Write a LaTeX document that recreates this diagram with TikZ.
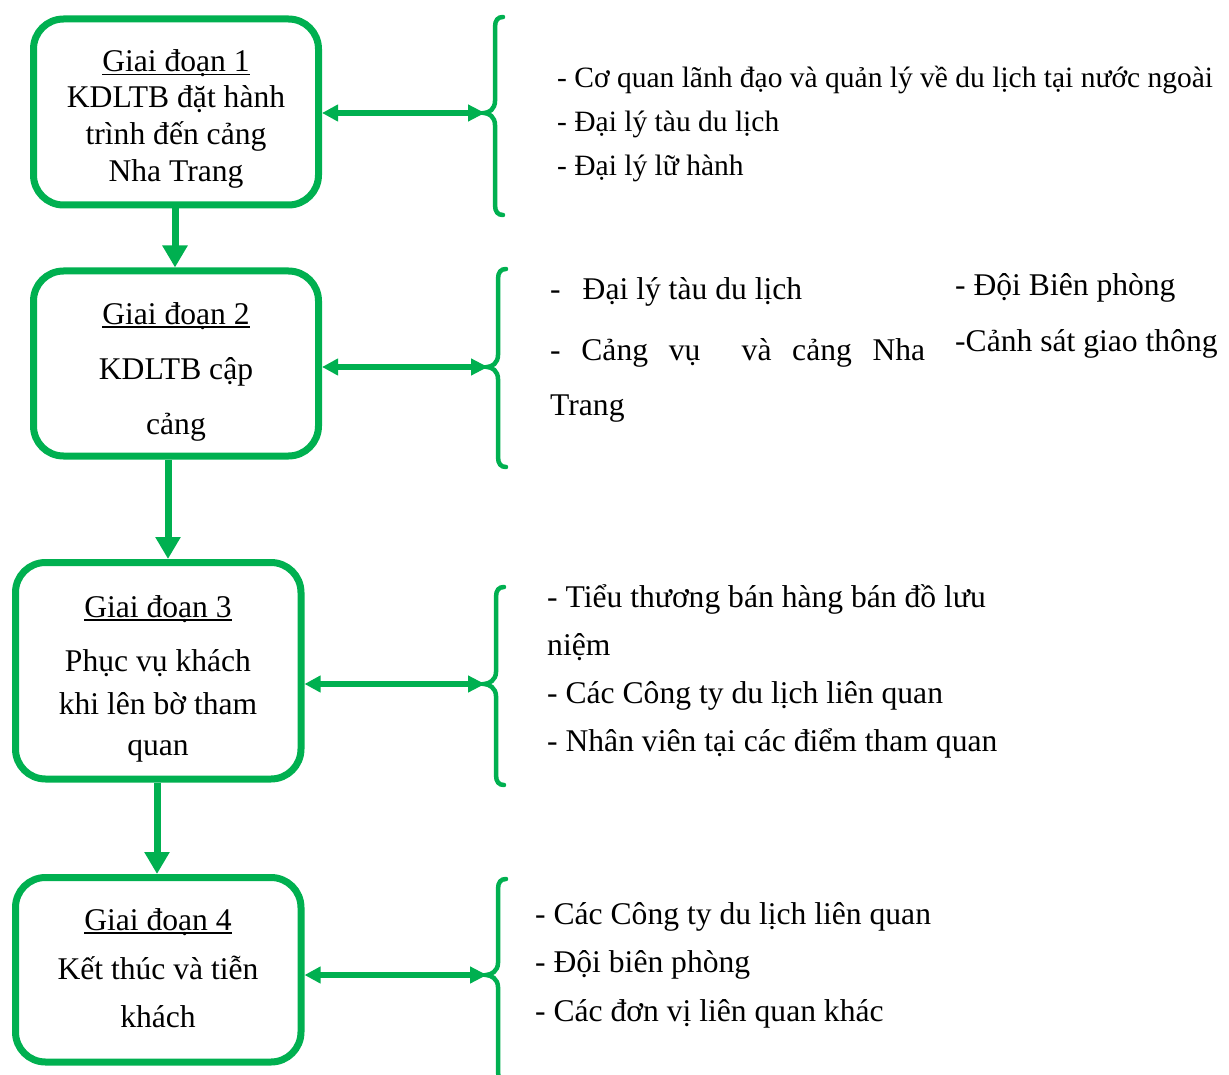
\documentclass[tikz,border=0pt]{standalone}
\usepackage{fontspec}
\setmainfont{Liberation Serif}
\usetikzlibrary{arrows.meta}
\definecolor{wgreen}{RGB}{0,176,80}
\newcommand\myul[1]{\setbox0\hbox{#1}\rlap{\rule[-3.5pt]{\wd0}{1.6pt}}\box0}
\newcommand\drawbrace[5]{%
 \draw[brace] ({#1+8},#2) .. controls ({#1+3},#2) and (#1,{#2+3}) .. (#1,{#2+10})
   -- (#1,{#3-12}) .. controls (#1,{#3-4}) and ({#5+5},#3) .. (#5,#3)
   .. controls ({#5+5},#3) and (#1,{#3+4}) .. (#1,{#3+12})
   -- (#1,{#4-10}) .. controls (#1,{#4-3}) and ({#1+3},#4) .. ({#1+8},#4);}
\begin{document}
\begin{tikzpicture}[x=1pt,y=-1pt,
  stage/.style={draw=wgreen, line width=7pt, rounded corners=30pt, inner sep=0pt},
  bt/.style={font=\fontsize{31.6}{37}\selectfont, inner sep=0pt, anchor=base},
  rt/.style={font=\fontsize{31.6}{37}\selectfont, inner sep=0pt, anchor=base west},
  rts/.style={font=\fontsize{29.5}{35}\selectfont, inner sep=0pt, anchor=base west},
  down/.style={draw=wgreen, line width=7pt, -{Triangle[width=24pt,length=22pt]}},
  dbl/.style={draw=wgreen, line width=5.5pt, {Triangle[width=16pt,length=16pt]}-{Triangle[width=16pt,length=17pt]}},
  brace/.style={draw=wgreen, line width=4.5pt, line cap=round}]
\useasboundingbox (0,0) rectangle (1229,1075);

% stage boxes
\node[stage, minimum width=285pt, minimum height=186pt] (b1) at (176,112) {};
\node[stage, minimum width=285pt, minimum height=185pt] (b2) at (176,363.5) {};
\node[stage, minimum width=285.5pt, minimum height=216.5pt] (b3) at (158.25,670.75) {};
\node[stage, minimum width=285.5pt, minimum height=184.5pt] (b4) at (158.25,969.75) {};

% box texts
\node[bt] (g1) at (176,72) {\myul{Giai đoạn 1}};
\node[bt] (g1b) at (176,108) {KDLTB đặt hành};
\node[bt] (g1c) at (176,145) {trình đến cảng};
\node[bt] (g1d) at (176,182) {Nha Trang};

\node[bt] (g2) at (176,324) {\myul{Giai đoạn 2}};
\node[bt] (g2b) at (176,379) {KDLTB cập};
\node[bt] (g2c) at (176,434) {cảng};

\node[bt] (g3) at (158,617) {\myul{Giai đoạn 3}};
\node[bt] (g3b) at (158,671) {Phục vụ khách};
\node[bt] (g3c) at (158,714) {khi lên bờ tham};
\node[bt] (g3d) at (158,755) {quan};

\node[bt] (g4) at (158,930) {\myul{Giai đoạn 4}};
\node[bt] (g4b) at (158,979) {Kết thúc và tiễn};
\node[bt] (g4c) at (158,1027) {khách};

% vertical arrows
\coordinate (x1) at (175,0);
\coordinate (x2) at (168,0);
\coordinate (x3) at (157,0);
\draw[down] (b1.south -| x1) -- (b2.north -| x1);
\draw[down] (b2.south -| x2) -- (b3.north -| x2);
\draw[down] (b3.south -| x3) -- (b4.north -| x3);

% braces
\drawbrace{495}{17}{113}{215}{484}
\drawbrace{498}{269}{367}{467}{487}
\drawbrace{496}{587}{684}{785}{484}
\drawbrace{498}{879}{975}{1082}{486}

% brace tips
\coordinate (t1) at (485,113);
\coordinate (t2) at (488,367);
\coordinate (t3) at (485,684);
\coordinate (t4) at (487,975);
\draw[dbl] (b1.east |- t1) -- (t1);
\draw[dbl] (b2.east |- t2) -- (t2);
\draw[dbl] (b3.east |- t3) -- (t3);
\draw[dbl] (b4.east |- t4) -- (t4);

% right texts
\node[rts] (r1a) at (557,88) {- Cơ quan lãnh đạo và quản lý về du lịch tại nước ngoài};
\node[rts] (r1b) at (557,132) {- Đại lý tàu du lịch};
\node[rts] (r1c) at (557,176) {- Đại lý lữ hành};

\node[rt] (r2a) at (550,300) {-\hspace{22pt}Đại lý tàu du lịch};
\node[rt] (r2b) at (550,360) {\hbox to 375pt{-\hfil Cảng\hfil vụ\hfil\hfil và\hfil cảng\hfil Nha}};
\node[rt] (r2c) at (550,415) {Trang};
\node[rt] (r2d) at (955,296) {- Đội Biên phòng};
\node[rt] (r2e) at (955,352) {-Cảnh sát giao thông};

\node[rt] (r3a) at (547,607) {- Tiểu thương bán hàng bán đồ lưu};
\node[rt] (r3b) at (547,655) {niệm};
\node[rt] (r3c) at (547,703) {- Các Công ty du lịch liên quan};
\node[rt] (r3d) at (547,751) {- Nhân viên tại các điểm tham quan};

\node[rt] (r4a) at (535,924) {- Các Công ty du lịch liên quan};
\node[rt] (r4b) at (535,972) {- Đội biên phòng};
\node[rt] (r4c) at (535,1021) {- Các đơn vị liên quan khác};
\end{tikzpicture}
\end{document}
